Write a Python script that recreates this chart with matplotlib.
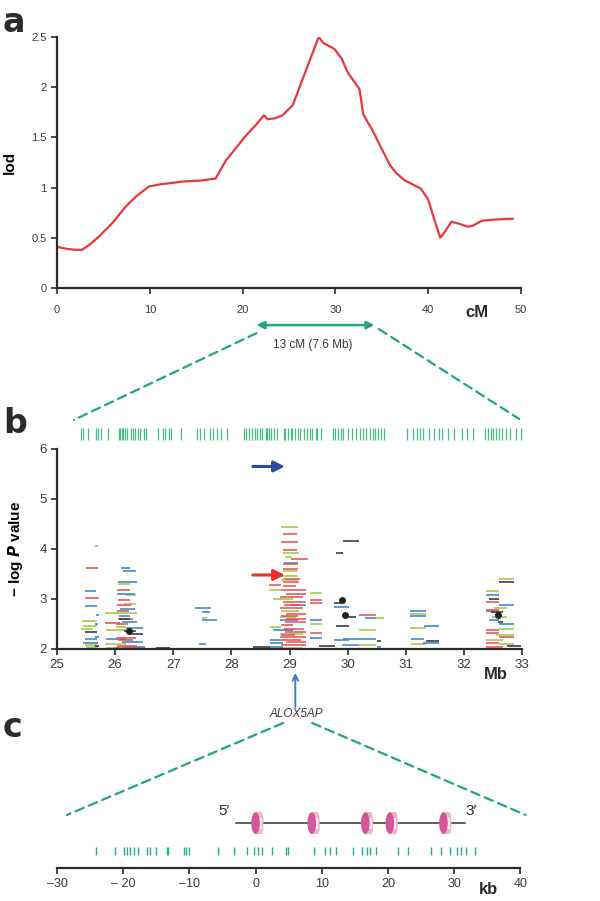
import matplotlib
matplotlib.use("Agg")
from matplotlib import pyplot as plt
from matplotlib.patches import ConnectionPatch, Ellipse, Rectangle

plt.rcParams['font.family'] = ['Liberation Sans', 'DejaVu Sans']

##############################################################################
# Data
##############################################################################

# panel a : lod curve
cM = [0, 1.0, 2.0, 2.7, 3.5, 4.5, 6.0, 7.4, 8.5, 9.9, 11.0, 13.6, 15.5, 17.1,
      18.2, 19.0, 20.2, 21.5, 22.3, 22.7, 23.5, 24.3, 25.4, 26.8, 27.5, 28.2,
      28.7, 29.9, 30.7, 31.3, 32.6, 33.0, 34.0, 34.8, 35.9, 36.6, 37.5, 39.2,
      40.0, 40.6, 41.3, 41.8, 42.5, 43.3, 44.3, 44.8, 45.8, 47.0, 49.1]
lod = [0.41, 0.39, 0.38, 0.38, 0.43, 0.51, 0.65, 0.81, 0.91, 1.01, 1.03, 1.06,
       1.07, 1.09, 1.27, 1.36, 1.50, 1.63, 1.72, 1.68, 1.69, 1.72, 1.82, 2.16,
       2.33, 2.50, 2.44, 2.38, 2.28, 2.15, 1.98, 1.73, 1.57, 1.42, 1.22, 1.14,
       1.07, 0.99, 0.88, 0.70, 0.50, 0.56, 0.66, 0.64, 0.61, 0.62, 0.67, 0.68,
       0.69]

# panel b : marker positions (Mb)
markers_b = [25.41, 25.44, 25.53, 25.67, 25.71, 25.75, 25.87, 26.06, 26.08, 26.11,
             26.14, 26.17, 26.20, 26.27, 26.30, 26.35, 26.39, 26.43, 26.50, 26.53,
             26.73, 26.83, 26.86, 26.93, 26.96, 27.13, 27.41, 27.46, 27.53, 27.63,
             27.69, 27.76, 27.82, 27.92, 28.22, 28.25, 28.31, 28.35, 28.40, 28.44,
             28.49, 28.52, 28.59, 28.62, 28.65, 28.69, 28.73, 28.78, 28.90, 28.93,
             28.97, 29.02, 29.05, 29.10, 29.15, 29.18, 29.25, 29.30, 29.35, 29.39,
             29.45, 29.48, 29.54, 29.74, 29.78, 29.84, 29.88, 29.92, 30.01, 30.07,
             30.14, 30.21, 30.27, 30.32, 30.39, 30.43, 30.47, 30.52, 30.57, 30.62,
             31.03, 31.13, 31.20, 31.25, 31.30, 31.40, 31.49, 31.58, 31.63, 31.73,
             31.83, 31.96, 32.06, 32.16, 32.37, 32.41, 32.46, 32.50, 32.56, 32.61,
             32.66, 32.73, 32.79, 32.89, 32.99]

# panel b : haplotype segments (-log P, start Mb, end Mb)
red_segs = [(3.61, 25.50, 25.71), (3.01, 25.49, 25.73), (3.18, 26.04, 26.25),
            (2.97, 26.05, 26.25), (2.87, 26.04, 26.28), (2.75, 26.03, 26.24),
            (2.59, 26.05, 26.31), (2.51, 25.82, 26.08), (2.49, 26.01, 26.22),
            (2.22, 26.02, 26.36), (2.17, 26.05, 26.31), (2.06, 26.03, 26.38),
            (2.01, 25.99, 26.42),
            (4.30, 28.88, 29.13), (4.13, 28.86, 29.15), (3.98, 28.89, 29.13),
            (3.80, 29.03, 29.32), (3.69, 28.88, 29.15), (3.59, 28.89, 29.15),
            (3.40, 28.90, 29.18), (3.33, 28.89, 29.16), (3.27, 28.65, 28.86),
            (3.25, 28.88, 29.12), (3.17, 28.86, 29.29), (3.10, 28.94, 29.29),
            (3.03, 28.83, 29.23), (2.93, 28.89, 29.29), (2.88, 28.90, 29.20),
            (2.82, 28.84, 29.23), (2.70, 28.94, 29.29), (2.65, 28.86, 29.15),
            (2.60, 28.94, 29.29), (2.53, 28.92, 29.29), (2.47, 28.86, 29.06),
            (2.40, 28.90, 29.25), (2.33, 28.92, 29.29), (2.28, 28.86, 29.10),
            (2.23, 28.84, 29.29), (2.18, 28.88, 29.20), (2.13, 28.94, 29.29),
            (2.07, 28.86, 29.29),
            (2.97, 29.36, 29.56), (2.91, 29.36, 29.56), (2.32, 29.36, 29.56),
            (2.68, 30.20, 30.48),
            (2.93, 32.38, 32.61), (2.78, 32.38, 32.61), (2.37, 32.38, 32.61),
            (2.32, 32.38, 32.61), (2.23, 32.61, 32.87), (2.11, 32.38, 32.61),
            (2.03, 32.38, 32.67)]

blue_segs = [(3.15, 25.49, 25.67), (2.86, 25.49, 25.69), (2.68, 25.67, 25.73),
             (2.50, 25.65, 25.71), (2.23, 25.65, 25.72), (2.19, 25.49, 25.68),
             (2.11, 25.44, 25.71),
             (3.61, 26.10, 26.26), (3.56, 26.14, 26.36), (3.33, 26.05, 26.38),
             (3.09, 26.03, 26.34), (2.79, 26.08, 26.34), (2.65, 26.07, 26.25),
             (2.53, 26.11, 26.38), (2.42, 26.18, 26.48), (2.20, 25.85, 26.19),
             (2.13, 26.12, 26.48), (2.03, 26.14, 26.51),
             (2.81, 27.37, 27.65), (2.73, 27.49, 27.64), (2.57, 27.50, 27.75),
             (2.09, 27.45, 27.57),
             (3.71, 28.90, 29.15), (2.87, 29.00, 29.29), (2.57, 28.83, 29.15),
             (2.37, 28.72, 29.06), (2.17, 28.66, 28.89), (2.11, 28.66, 28.89),
             (2.03, 28.66, 28.89),
             (2.57, 29.36, 29.56), (2.21, 29.36, 29.56), (2.83, 29.76, 30.02),
             (2.61, 30.30, 30.48), (2.20, 29.92, 30.48), (2.17, 29.76, 30.02),
             (2.07, 29.91, 30.20), (2.03, 30.51, 30.57),
             (2.75, 31.07, 31.34), (2.65, 31.07, 31.34), (2.45, 31.32, 31.57),
             (2.19, 31.09, 31.32), (2.12, 31.29, 31.57),
             (3.08, 32.38, 32.61), (2.88, 32.61, 32.87), (2.75, 32.38, 32.61),
             (2.57, 32.43, 32.61), (2.50, 32.61, 32.87)]

green_segs = [(4.05, 25.65, 25.71), (2.55, 25.43, 25.68), (2.45, 25.45, 25.69),
              (2.39, 25.42, 25.62), (2.08, 25.48, 25.68), (2.03, 25.50, 25.71),
              (2.71, 25.82, 26.19), (3.30, 26.05, 26.25), (3.07, 26.19, 26.36),
              (2.89, 26.16, 26.36), (2.71, 26.18, 26.38), (2.43, 26.02, 26.19),
              (2.37, 25.85, 26.25), (2.10, 25.82, 26.19), (2.01, 25.85, 26.08),
              (2.62, 27.50, 27.58),
              (4.43, 28.86, 29.15), (3.91, 28.88, 29.16), (3.83, 28.93, 29.05),
              (3.55, 28.88, 29.13), (3.46, 28.86, 29.15), (3.38, 28.86, 29.15),
              (3.17, 28.65, 28.86), (3.00, 28.72, 29.06), (2.75, 28.86, 29.17),
              (2.63, 28.84, 29.11), (2.43, 28.66, 28.86), (2.30, 28.83, 29.23),
              (2.01, 28.83, 29.23),
              (3.11, 29.36, 29.56), (2.50, 29.36, 29.56), (2.61, 30.48, 30.63),
              (2.37, 30.20, 30.48), (2.08, 30.20, 30.48),
              (2.69, 31.07, 31.34), (2.42, 31.07, 31.34), (2.09, 31.09, 31.34),
              (3.40, 32.60, 32.87), (3.15, 32.38, 32.61), (2.82, 32.52, 32.75),
              (2.63, 32.49, 32.75), (2.40, 32.61, 32.87), (2.27, 32.55, 32.87),
              (2.17, 32.38, 32.67), (2.09, 32.61, 32.87)]

black_segs = [(2.34, 25.48, 25.68), (2.05, 25.65, 25.73), (2.59, 26.06, 26.26),
              (2.35, 26.16, 26.36), (2.30, 26.25, 26.48), (2.02, 26.71, 26.94),
              (2.03, 28.37, 28.66), (4.15, 29.92, 30.20), (3.92, 29.80, 29.92),
              (2.91, 29.76, 29.90), (2.63, 29.92, 30.14), (2.45, 29.80, 30.02),
              (2.15, 30.51, 30.57), (2.05, 29.51, 29.79), (2.15, 31.34, 31.57),
              (3.34, 32.60, 32.87), (3.00, 32.43, 32.61), (2.73, 32.47, 32.67),
              (2.53, 32.58, 32.67), (2.05, 32.75, 32.98)]

dots_x = [26.24, 29.91, 29.95, 32.59]
dots_y = [2.35, 2.98, 2.67, 2.67]

# panel c : gene ALOX5AP (kb)
exons_kb = [0, 8.5, 16.6, 20.3, 28.4]
gene_start, gene_end = -3.0, 31.6
markers_c = [-24.1, -21.3, -19.9, -19.4, -18.9, -18.3, -17.7, -16.4, -15.9, -15.1,
             -13.4, -13.2, -10.8, -10.5, -10.0, -5.7, -3.3, -1.3, -0.3, 0.4, 1.0,
             2.5, 4.6, 4.9, 8.8, 10.5, 11.2, 12.1, 14.7, 16.1, 16.8, 17.3, 18.2,
             21.5, 23.0, 26.5, 28.1, 29.4, 30.4, 31.0, 31.8, 33.2]
kb_ticks = [-30, -20, -10, 0, 10, 20, 30, 40]
kb_labels = ['\u201330', '\u2013 20', '\u201310', '0', '10', '20', '30', '40']

##############################################################################
# Styles
##############################################################################
GREEN = '#1ea67c'
AXC = '#2b2b2b'
TICKC = '#3a3a3a'

fig = plt.figure(figsize=(6, 9.01), dpi=100)


def style_axes(ax, fs):
    for s in ['top', 'right']:
        ax.spines[s].set_visible(False)
    for s in ['left', 'bottom']:
        ax.spines[s].set_color(AXC)
        ax.spines[s].set_linewidth(1.6)
    ax.tick_params(direction='out', length=4, width=1.2, color=AXC,
                   labelsize=fs, labelcolor=TICKC)


##############################################################################
# a
##############################################################################
ax_a = fig.add_axes([0.095, 0.6804, 0.7733, 0.2786])
ax_a.plot(cM, lod, color='#e8383d', lw=1.6, solid_joinstyle='round')
ax_a.set_xlim(0, 50)
ax_a.set_ylim(0, 2.5)
ax_a.set_xticks([0, 10, 20, 30, 40, 50])
ax_a.set_yticks([0, 0.5, 1, 1.5, 2, 2.5])
ax_a.set_yticklabels(['0', '0.5', '1', '1.5', '2', '2.5'])
style_axes(ax_a, 8)
ax_a.tick_params(axis='x', pad=8)
ax_a.set_ylabel('lod', fontsize=11, fontweight='bold', labelpad=10)
ax_a.text(45.2, -0.24, 'cM', fontsize=12, fontweight='bold', ha='center', va='center',
          color=AXC, clip_on=False)

# zoom arrow 13 cM
ax_a.annotate('', xy=(21.5, -0.37), xytext=(34.2, -0.37),
              arrowprops=dict(arrowstyle='<|-|>', color=GREEN, lw=1.8,
                              mutation_scale=11, shrinkA=0, shrinkB=0),
              annotation_clip=False)
ax_a.text(27.6, -0.57, '13 cM (7.6 Mb)', fontsize=8.5, ha='center', va='center',
          color=TICKC, clip_on=False)

##############################################################################
# b
##############################################################################
ax_b = fig.add_axes([0.095, 0.2797, 0.775, 0.222])
for segs, col, a in [(green_segs, '#a9c94b', 0.85), (blue_segs, '#3d8ad0', 0.85),
                     (red_segs, '#ea4a4f', 0.8), (black_segs, '#3c3c3c', 0.85)]:
    for y, x0, x1 in segs:
        ax_b.hlines(y, x0, x1, color=col, lw=1.4, alpha=a)
ax_b.plot(dots_x, dots_y, 'o', color='#222222', ms=4)

ax_b.vlines(markers_b, 6.18, 6.42, color='#45bd85', lw=0.9, clip_on=False)

ax_b.annotate('', xy=(28.92, 5.65), xytext=(28.37, 5.65),
              arrowprops=dict(arrowstyle='-|>', color='#2c4a9c', lw=2.2,
                              mutation_scale=16, shrinkA=0, shrinkB=0))
ax_b.annotate('', xy=(28.92, 3.48), xytext=(28.37, 3.48),
              arrowprops=dict(arrowstyle='-|>', color='#e8312f', lw=2.2,
                              mutation_scale=16, shrinkA=0, shrinkB=0))

ax_b.set_xlim(25, 33)
ax_b.set_ylim(2, 6)
ax_b.set_xticks(range(25, 34))
ax_b.set_yticks([2, 3, 4, 5, 6])
style_axes(ax_b, 9.5)
ax_b.set_ylabel('\u2212 log $\\mathbfit{P}$ value',
                fontsize=11, fontweight='bold', labelpad=10)
ax_b.text(32.55, 1.48, 'Mb', fontsize=12, fontweight='bold', ha='center', va='center',
          color=AXC, clip_on=False)

# ALOX5AP
ax_b.annotate('', xy=(29.1, 1.52), xytext=(29.1, 0.84),
              arrowprops=dict(arrowstyle='->', color='#3a7cc4', lw=1.4,
                              mutation_scale=10, shrinkA=0, shrinkB=0),
              annotation_clip=False)
ax_b.text(29.12, 0.70, 'ALOX5AP', fontsize=8.5, style='italic', ha='center',
          va='center', color=TICKC, clip_on=False)

##############################################################################
# c
##############################################################################
ax_c = fig.add_axes([0.095, 0.0366, 0.772, 0.0755])
ax_c.set_xlim(-30, 40)
ax_c.set_ylim(0, 1)
ax_c.spines['left'].set_visible(False)
style_axes(ax_c, 9)
ax_c.set_yticks([])
ax_c.set_xticks(kb_ticks)
ax_c.set_xticklabels(kb_labels)

ax_c.plot([gene_start, gene_end], [0.66, 0.66], color='#333333', lw=1.1, zorder=1)
for e in exons_kb:
    # exon drawn as a small pink cylinder
    ax_c.add_patch(Rectangle((e, 0.50), 0.9, 0.32, facecolor='#f3b4c9',
                             edgecolor='none', zorder=2))
    ax_c.add_patch(Ellipse((e + 0.9, 0.66), 0.6, 0.32, facecolor='#f3b4c9',
                           edgecolor='none', zorder=2))
    ax_c.add_patch(Rectangle((e + 0.3, 0.58), 0.7, 0.16, facecolor='#f7ecf0',
                             edgecolor='none', zorder=3))
    ax_c.add_patch(Ellipse((e, 0.66), 1.3, 0.32, facecolor='#d6559c',
                           edgecolor='none', zorder=4))
ax_c.text(-4.8, 0.84, '5\u2032', fontsize=11, ha='center', va='center', color=AXC)
ax_c.text(32.6, 0.84, '3\u2032', fontsize=11, ha='center', va='center', color=AXC)
ax_c.vlines(markers_c, 0.19, 0.31, color='#1fae94', lw=1.0)
ax_c.text(35.2, -0.32, 'kb', fontsize=12, fontweight='bold', ha='center',
          va='center', color=AXC, clip_on=False)

##############################################################################
# zoom lines
##############################################################################
for xyA, axA, xyB, axB in [((21.5, -0.45), ax_a, (25.29, 6.58), ax_b),
                           ((34.7, -0.41), ax_a, (32.95, 6.60), ax_b),
                           ((28.89, 0.52), ax_b, (-28.5, 0.78), ax_c),
                           ((29.39, 0.52), ax_b, (40.8, 0.78), ax_c)]:
    con = ConnectionPatch(xyA=xyA, coordsA=axA.transData, xyB=xyB,
                          coordsB=axB.transData, color=GREEN, lw=1.6,
                          linestyle=(0, (4, 2.5)))
    fig.add_artist(con)

for lab, y in [('a', 0.975), ('b', 0.53), ('c', 0.193)]:
    fig.text(0.005, y, lab, fontsize=24, fontweight='bold', color=AXC,
             ha='left', va='center', family='DejaVu Sans')

plt.savefig('out.png', dpi=100)
